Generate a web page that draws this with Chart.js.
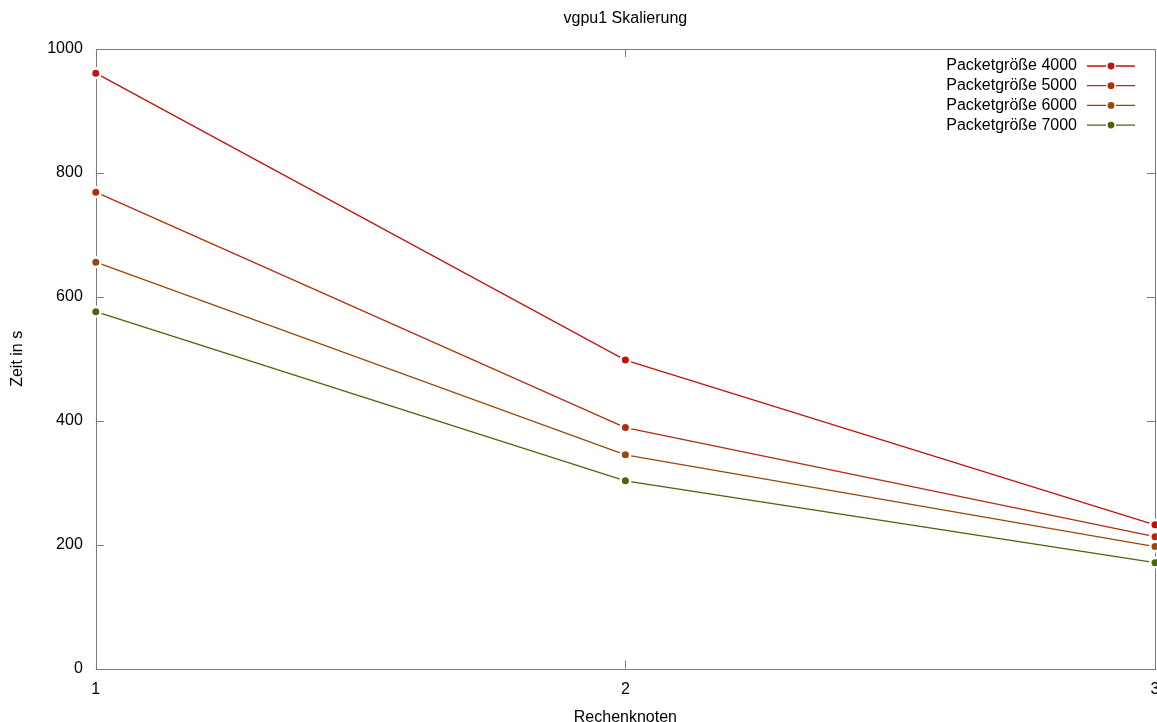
<!DOCTYPE html>
<html>
<head>
<meta charset="utf-8">
<script src="https://cdn.jsdelivr.net/npm/chart.js@4"></script>
<style>
  html, body { margin: 0; padding: 0; background: #fff; overflow: hidden; }
  #wrap { width: 1157px; height: 727px; }
</style>
</head>
<body>
<div id="wrap"><canvas id="lineChart"></canvas></div>
<script>
var nodes = [1, 2, 3];
var size4000 = [961, 498, 232];
var size5000 = [769, 389, 213];
var size6000 = [656, 345, 197];
var size7000 = [576, 303, 171];
var seriesNames = ['Packetgröße 4000', 'Packetgröße 5000', 'Packetgröße 6000', 'Packetgröße 7000'];
var seriesColors = ['#c4120a', '#b52c0c', '#98480a', '#4a660a'];
var chartTitle = 'vgpu1 Skalierung';

var FONT = '"Liberation Sans", Arial, sans-serif';
var frameColor = '#7a7a7a';

function points(vals) {
    var out = [];
    for (var i = 0; i < nodes.length; i++) {
        out.push({x: nodes[i], y: vals[i]});
    }
    return out;
}

var allValues = [size4000, size5000, size6000, size7000];
var datasets = [];
for (var a = 0; a < allValues.length; a++) {
    datasets.push({
        label: seriesNames[a],
        data: points(allValues[a]),
        borderColor: seriesColors[a],
        backgroundColor: seriesColors[a],
        borderWidth: 1.3,
        pointRadius: 4.8,
        pointBorderWidth: 2.6,
        pointBorderColor: '#ffffff',
        pointBackgroundColor: seriesColors[a],
        tension: 0,
        clip: false
    });
}

// frame with inward ticks on all four sides, like the gnuplot output
var framePlugin = {
    id: 'frame',
    beforeDatasetsDraw: function(chart) {
        var ctx = chart.ctx, ca = chart.chartArea;
        var xs = chart.scales.x, ys = chart.scales.y;
        var len = 8;
        ctx.save();
        ctx.strokeStyle = frameColor;
        ctx.lineWidth = 1;
        ctx.strokeRect(Math.round(ca.left) + 0.5, Math.round(ca.top) + 0.5,
                       Math.round(ca.right - ca.left), Math.round(ca.bottom - ca.top));
        ctx.beginPath();
        ys.ticks.forEach(function(t) {
            var py = Math.round(ys.getPixelForValue(t.value)) + 0.5;
            ctx.moveTo(ca.left, py); ctx.lineTo(ca.left + len, py);
            ctx.moveTo(ca.right, py); ctx.lineTo(ca.right - len, py);
        });
        xs.ticks.forEach(function(t) {
            var px = Math.round(xs.getPixelForValue(t.value)) + 0.5;
            ctx.moveTo(px, ca.bottom); ctx.lineTo(px, ca.bottom - len);
            ctx.moveTo(px, ca.top); ctx.lineTo(px, ca.top + len);
        });
        ctx.stroke();
        // title centred over the plot area
        ctx.font = '16px ' + FONT;
        ctx.fillStyle = '#000';
        ctx.textAlign = 'center';
        ctx.textBaseline = 'middle';
        ctx.fillText(chartTitle, (ca.left + ca.right) / 2, 19);
        ctx.restore();
    }
};

// gnuplot style key: right aligned text followed by line-point-line sample
var keyPlugin = {
    id: 'key',
    afterDatasetsDraw: function(chart) {
        var ctx = chart.ctx, ca = chart.chartArea;
        var textRight = ca.right - 78;
        var y0 = ca.top + 17;
        var step = 19.7;
        ctx.save();
        ctx.font = '16px ' + FONT;
        ctx.textAlign = 'right';
        ctx.textBaseline = 'middle';
        chart.data.datasets.forEach(function(ds, i) {
            var y = y0 + i * step;
            ctx.fillStyle = '#000';
            ctx.fillText(ds.label, textRight, y);
            var sx = textRight + 10;
            ctx.strokeStyle = ds.borderColor;
            ctx.lineWidth = 1.3;
            ctx.beginPath();
            ctx.moveTo(sx, y); ctx.lineTo(sx + 19, y);
            ctx.moveTo(sx + 29, y); ctx.lineTo(sx + 48, y);
            ctx.stroke();
            ctx.fillStyle = ds.borderColor;
            ctx.beginPath();
            ctx.arc(sx + 24, y, 3.4, 0, Math.PI * 2);
            ctx.fill();
        });
        ctx.restore();
    }
};

var ctx = document.getElementById('lineChart').getContext('2d');
new Chart(ctx, {
    type: 'line',
    data: { datasets: datasets },
    options: {
        responsive: true,
        maintainAspectRatio: false,
        animation: false,
        layout: { autoPadding: false, padding: { top: 49, right: 2, left: 8, bottom: 0 } },
        plugins: {
            legend: { display: false },
            tooltip: { enabled: false },
            title: { display: false }
        },
        scales: {
            x: {
                type: 'linear',
                min: 1,
                max: 3,
                grid: { display: false, drawTicks: false },
                border: { display: false },
                ticks: {
                    stepSize: 1,
                    color: '#000',
                    font: { family: FONT, size: 16 },
                    padding: 11
                },
                title: {
                    display: true,
                    text: 'Rechenknoten',
                    color: '#000',
                    font: { family: FONT, size: 16 },
                    padding: { top: -2, bottom: 0 }
                },
                afterFit: function(s) { s.paddingRight = 0; s.paddingLeft = 0; }
            },
            y: {
                min: 0,
                max: 1000,
                grid: { display: false, drawTicks: false },
                border: { display: false },
                ticks: {
                    stepSize: 200,
                    color: '#000',
                    font: { family: FONT, size: 16 },
                    padding: 13,
                    callback: function(v) { return String(v); }
                },
                title: {
                    display: true,
                    text: 'Zeit in s',
                    color: '#000',
                    font: { family: FONT, size: 16 },
                    padding: { top: 0, bottom: 7 }
                },
                afterFit: function(s) { s.paddingTop = 0; s.paddingBottom = 0; }
            }
        }
    },
    plugins: [framePlugin, keyPlugin]
});
</script>
</body>
</html>
